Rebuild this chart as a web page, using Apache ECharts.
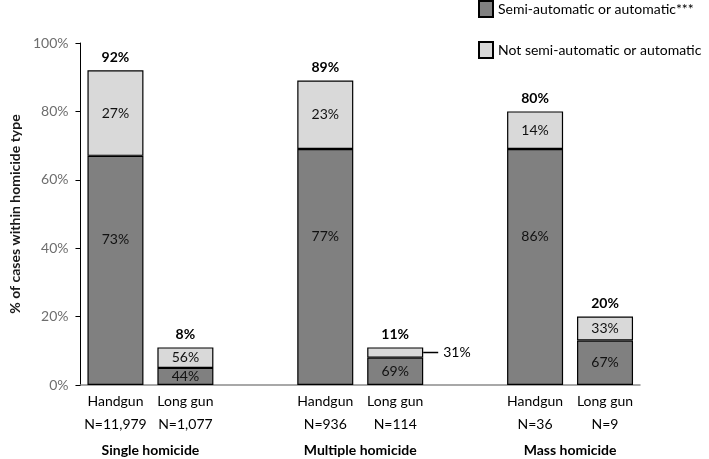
<!DOCTYPE html>
<html>
<head>
<meta charset="utf-8">
<script src="https://cdn.jsdelivr.net/npm/echarts@6/dist/echarts.min.js"></script>
<style>html,body{margin:0;padding:0;background:#fff;}#c{width:709px;height:459px;}</style>
</head>
<body>
<div id="c"></div>
<script>
// ---- data ----
const groups = ['Single homicide', 'Multiple homicide', 'Mass homicide'];
const weapons = ['Handgun', 'Long gun'];
const caseCounts = ['N=11,979', 'N=1,077', 'N=936', 'N=114', 'N=36', 'N=9'];
// drawn heights of the segments (% on the y axis), as measured in the picture
const semiHeight = [67, 5, 69, 8, 69, 13];
const notHeight = [25, 6, 20, 3, 11, 7];
// printed labels
const semiShare = [73, 44, 77, 69, 86, 67];
const notShare = [27, 56, 23, 31, 14, 33];
const totalShare = [92, 8, 89, 11, 80, 20];
const seriesNames = ['Semi-automatic or automatic***', 'Not semi-automatic or automatic'];
const yTicks = [0, 20, 40, 60, 80, 100];

// ---- build slots: two bars per group, an empty slot between groups ----
const slots = [];
groups.forEach((g, gi) => {
  weapons.forEach((w, wi) => slots.push({ key: 'b' + (gi * 2 + wi), bar: gi * 2 + wi, weapon: wi }));
  if (gi < groups.length - 1) slots.push({ key: 'gap' + gi, bar: -1 });
});

const FONT = 'Lato';
const semiData = slots.map(s => s.bar < 0 ? '-' : {
  value: semiHeight[s.bar],
  label: { formatter: semiShare[s.bar] + '%', offset: s.weapon === 0 ? [0, -31] : [0, 0] }
});
const notData = slots.map(s => {
  if (s.bar < 0) return '-';
  const item = { value: notHeight[s.bar], label: { formatter: notShare[s.bar] + '%' } };
  if (notHeight[s.bar] < 5) {
    item.label = {
      position: 'right', distance: 0,
      formatter: '{ln|}{t|' + notShare[s.bar] + '%}',
      rich: {
        ln: { width: 15, height: 1.5, backgroundColor: '#000', verticalAlign: 'middle' },
        t: { padding: [0, 0, 0, 5], fontSize: 14, color: '#000', fontFamily: FONT, verticalAlign: 'middle' }
      }
    };
  }
  return item;
});
const totalData = slots.map(s => s.bar < 0 ? '-' : {
  value: 0,
  label: { formatter: totalShare[s.bar] + '%' }
});

const chart = echarts.init(document.getElementById('c'), null, { renderer: 'canvas' });
chart.setOption({
  animation: false,
  backgroundColor: '#fff',
  textStyle: { fontFamily: FONT },
  grid: { left: 80, right: 69, top: 43, bottom: 72, containLabel: false },
  legend: {
    data: seriesNames,
    orient: 'vertical',
    left: 478, top: 0, padding: 0,
    itemWidth: 14, itemHeight: 16, itemGap: 23,
    icon: 'rect',
    textStyle: { fontSize: 14, color: '#000', fontFamily: FONT },
    selectedMode: false
  },
  xAxis: [{
    type: 'category',
    data: slots.map(s => s.key),
    axisLine: { lineStyle: { color: '#8c8c8c', width: 1.5 } },
    axisTick: { show: false },
    axisLabel: {
      interval: 0, margin: 5, fontSize: 14, color: '#000', lineHeight: 23, fontFamily: FONT,
      formatter: (v, idx) => { const s = slots[idx]; return s.bar < 0 ? '' : weapons[s.weapon] + '\n' + caseCounts[s.bar]; }
    }
  }, {
    type: 'value', position: 'bottom', min: 0, max: slots.length, interval: 1,
    axisLine: { show: false }, axisTick: { show: false }, splitLine: { show: false },
    axisLabel: {
      margin: 56, fontSize: 14, fontWeight: 'bold', color: '#000', lineHeight: 18, fontFamily: FONT,
      showMinLabel: true, showMaxLabel: true,
      formatter: v => { const gi = (v - 1) / 3; return Number.isInteger(gi) && groups[gi] ? groups[gi] : ''; }
    }
  }],
  yAxis: {
    type: 'value', min: yTicks[0], max: yTicks[yTicks.length - 1], interval: yTicks[1] - yTicks[0],
    name: '% of cases within homicide type',
    nameLocation: 'middle', nameGap: 57,
    nameTextStyle: { fontSize: 14, fontWeight: 'bold', color: '#1a1a1a', fontFamily: FONT },
    axisLine: { show: true, lineStyle: { color: '#000', width: 1 } },
    axisTick: { show: true, length: 5, lineStyle: { color: '#000' } },
    splitLine: { show: false },
    axisLabel: { formatter: '{value}%', fontSize: 14, color: '#6e6e6e', margin: 12, fontFamily: FONT }
  },
  series: [{
    name: seriesNames[0], type: 'bar', stack: 'a', barWidth: 56, xAxisIndex: 0,
    itemStyle: { color: '#808080', borderColor: '#000', borderWidth: 1.2 },
    label: { show: true, position: 'inside', fontSize: 14, color: '#111', fontFamily: FONT },
    data: semiData
  }, {
    name: seriesNames[1], type: 'bar', stack: 'a', barWidth: 56, xAxisIndex: 0,
    itemStyle: { color: '#d9d9d9', borderColor: '#000', borderWidth: 1.2 },
    label: { show: true, position: 'inside', fontSize: 14, color: '#111', fontFamily: FONT },
    data: notData
  }, {
    name: 'total', type: 'bar', stack: 'a', barWidth: 56, xAxisIndex: 0, silent: true,
    itemStyle: { color: 'rgba(0,0,0,0)', borderWidth: 0 },
    label: { show: true, position: 'top', distance: 6, fontSize: 14, fontWeight: 'bold', color: '#000', fontFamily: FONT },
    data: totalData
  }]
});
</script>
</body>
</html>
